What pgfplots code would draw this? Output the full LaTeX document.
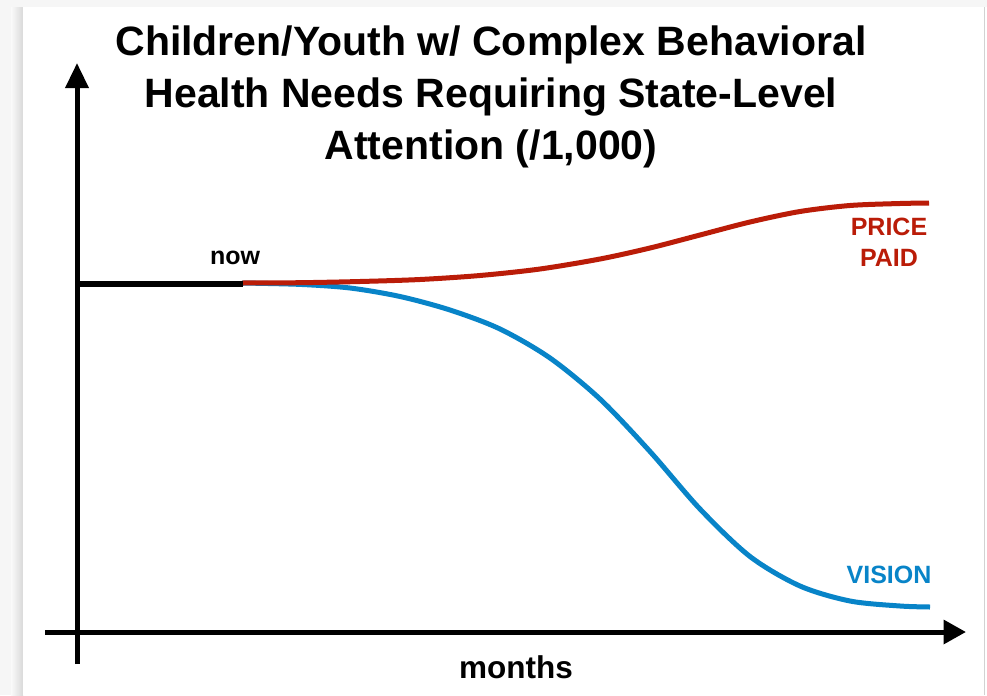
\documentclass[border=0pt]{standalone}
\usepackage{pgfplots}
\pgfplotsset{compat=1.18}
\usepackage{fontspec}
\setmainfont{Liberation Sans}
\usetikzlibrary{arrows.meta}
\definecolor{pricered}{RGB}{186,28,8}
\definecolor{visionblue}{RGB}{8,132,200}
\begin{document}
\begin{tikzpicture}
\begin{axis}[
  scale only axis,
  width=394.8pt, height=278pt,
  xmin=0, xmax=987, ymin=0, ymax=695,
  axis lines=none, ticks=none, clip=false,
]
% card background
\fill[gray!7] (axis cs:0,0) rectangle (axis cs:987,695);
\shade[left color=gray!4, right color=gray!30] (axis cs:11,0) rectangle (axis cs:23,688);
\fill[white] (axis cs:23,0) rectangle (axis cs:985,688);
\draw[gray!35, line width=0.5pt] (axis cs:985,0) -- (axis cs:985,688);
\fill[white] (axis cs:985.3,0) rectangle (axis cs:987,688);
% axes
\addplot[black, line width=2pt, -{Triangle[length=9pt, width=9.4pt]}] coordinates {(45,63) (966,63)};
\addplot[black, line width=2pt, -{Triangle[length=10pt, width=9pt]}] coordinates {(77,31) (77,632)};
% series
\addplot[visionblue, line width=2pt, smooth] coordinates {
 (242,412) (300,410.6) (350,407) (400,398.5) (450,385) (500,366) (550,337)
 (600,296) (650,243.5) (700,186) (750,138.5) (800,109) (850,94) (900,89) (930,88)};
\addplot[pricered, line width=2pt, smooth] coordinates {
 (242,412) (300,412.3) (360,413.5) (420,415.5) (480,419.5) (540,426) (600,436)
 (650,447) (700,460) (750,473) (800,483.5) (850,489.5) (900,491.5) (929,492)};
\addplot[black, line width=2.6pt] coordinates {(77,411) (243,411)};
% labels
\node[align=center, font=\fontsize{16.4}{20.8}\selectfont\bfseries] at (axis cs:491,598) {Children/Youth w/ Complex Behavioral\\Health Needs Requiring State-Level\\Attention (/1,000)};
\node[font=\fontsize{10}{12}\selectfont\bfseries] at (axis cs:235,437) {now};
\node[align=center, text=pricered, font=\fontsize{10}{12.4}\selectfont\bfseries] at (axis cs:889,453) {PRICE\\PAID};
\node[text=visionblue, font=\fontsize{10}{12}\selectfont\bfseries] at (axis cs:889,120) {VISION};
\node[font=\fontsize{12.6}{15}\selectfont\bfseries] at (axis cs:516,28) {months};
\end{axis}
\end{tikzpicture}
\end{document}
